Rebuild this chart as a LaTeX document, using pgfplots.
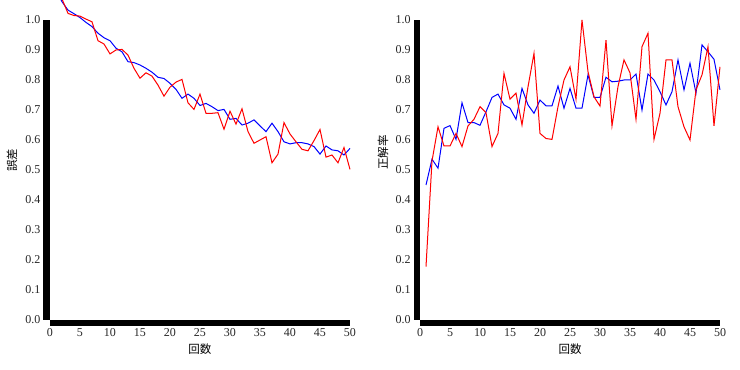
\documentclass[border=0pt]{standalone}
\usepackage{pgfplots}
\pgfplotsset{compat=1.18}
\usepackage{pgfplotstable}
\usepackage{fontspec}
\setmainfont{Liberation Serif}
\newfontfamily\cjk{Noto Sans CJK JP}

\pgfplotstableread{
k v
1 1.10
2 1.061
3 1.033
4 1.021
5 1.008
6 0.992
7 0.978
8 0.956
9 0.941
10 0.931
11 0.906
12 0.894
13 0.861
14 0.858
15 0.850
16 0.839
17 0.826
18 0.809
19 0.805
20 0.789
21 0.769
22 0.739
23 0.753
24 0.739
25 0.715
26 0.722
27 0.711
28 0.698
29 0.702
30 0.669
31 0.672
32 0.650
33 0.656
34 0.667
35 0.647
36 0.628
37 0.656
38 0.628
39 0.594
40 0.587
41 0.591
42 0.591
43 0.587
44 0.578
45 0.553
46 0.580
47 0.567
48 0.564
49 0.550
50 0.572
}\lossblue

\pgfplotstableread{
k v
1 1.12
2 1.07
3 1.022
4 1.015
5 1.013
6 1.003
7 0.994
8 0.931
9 0.920
10 0.887
11 0.900
12 0.902
13 0.883
14 0.839
15 0.806
16 0.824
17 0.813
18 0.783
19 0.746
20 0.776
21 0.793
22 0.802
23 0.724
24 0.702
25 0.753
26 0.689
27 0.689
28 0.691
29 0.636
30 0.696
31 0.653
32 0.704
33 0.628
34 0.589
35 0.600
36 0.611
37 0.524
38 0.553
39 0.658
40 0.620
41 0.594
42 0.569
43 0.564
44 0.598
45 0.635
46 0.543
47 0.550
48 0.524
49 0.575
50 0.502
}\lossred

\pgfplotstableread{
k v
1 0.45
2 0.536
3 0.506
4 0.639
5 0.648
6 0.602
7 0.724
8 0.658
9 0.658
10 0.649
11 0.694
12 0.742
13 0.753
14 0.717
15 0.706
16 0.669
17 0.772
18 0.717
19 0.689
20 0.733
21 0.714
22 0.714
23 0.780
24 0.706
25 0.772
26 0.706
27 0.706
28 0.817
29 0.742
30 0.742
31 0.809
32 0.794
33 0.796
34 0.800
35 0.800
36 0.820
37 0.700
38 0.820
39 0.800
40 0.761
41 0.717
42 0.761
43 0.867
44 0.767
45 0.856
46 0.756
47 0.917
48 0.894
49 0.869
50 0.767
}\accblue

\pgfplotstableread{
k v
1 0.178
2 0.53
3 0.644
4 0.58
5 0.58
6 0.622
7 0.578
8 0.647
9 0.669
10 0.711
11 0.691
12 0.578
13 0.622
14 0.822
15 0.736
16 0.756
17 0.650
18 0.777
19 0.889
20 0.622
21 0.605
22 0.602
23 0.711
24 0.800
25 0.844
26 0.736
27 1.000
28 0.828
29 0.744
30 0.713
31 0.933
32 0.647
33 0.778
34 0.867
35 0.824
36 0.669
37 0.911
38 0.956
39 0.602
40 0.689
41 0.867
42 0.867
43 0.711
44 0.644
45 0.600
46 0.767
47 0.817
48 0.911
49 0.647
50 0.844
}\accred

\pgfplotsset{
  myaxis/.style={
    width=300pt, height=300pt, scale only axis,
    anchor=south west,
    xmin=0, xmax=50, ymin=0, ymax=1,
    clip=false,
    axis lines=none,
    xtick={0,5,10,15,20,25,30,35,40,45,50},
    ytick={0,0.1,0.2,0.3,0.4,0.5,0.6,0.7,0.8,0.9,1.0},
    major tick length=0pt,
    /pgf/number format/assume math mode=true,
    yticklabel={\pgfmathprintnumber[fixed,fixed zerofill,precision=1]{\tick}},
    xticklabel={\pgfmathprintnumber[fixed,precision=0]{\tick}},
    hide x axis=false, hide y axis=false,
    axis x line*=bottom, axis y line*=left,
    axis line style={draw=none},
    tick style={draw=none},
    ticklabel style={font=\fontsize{12}{14}\selectfont, text=black!85},
    yticklabel style={anchor=east, inner sep=0pt, xshift=-9.3pt},
    xticklabel style={anchor=north, inner sep=0pt, yshift=-8pt},
    label style={font=\fontsize{11.5}{13}\selectfont\cjk},
  }
}

\begin{document}
\begin{tikzpicture}
\useasboundingbox (0,0) rectangle (740pt,370pt);
\begin{axis}[myaxis, at={(50pt,50pt)},
  xlabel={回数}, ylabel={誤差},
  xlabel style={at={(axis description cs:0.5,-0.097)}, anchor=center, inner sep=0pt},
  ylabel style={at={(axis description cs:-0.127,0.533)}, anchor=center, inner sep=0pt, rotate=0},
]
\addplot[blue, line width=1pt] table[x=k,y=v] {\lossblue};
\addplot[red, line width=1pt] table[x=k,y=v] {\lossred};
\draw[black, line width=6.5pt] ([xshift=-3.25pt]rel axis cs:0,0) -- ([xshift=-3.25pt]rel axis cs:0,1);
\draw[black, line width=6pt] ([yshift=-3pt]rel axis cs:0,0) -- ([yshift=-3pt]rel axis cs:1,0);
\end{axis}
\begin{axis}[myaxis, at={(420pt,50pt)},
  xlabel={回数}, ylabel={正解率},
  xlabel style={at={(axis description cs:0.5,-0.097)}, anchor=center, inner sep=0pt},
  ylabel style={at={(axis description cs:-0.123,0.558)}, anchor=center, inner sep=0pt},
]
\addplot[blue, line width=1pt] table[x=k,y=v] {\accblue};
\addplot[red, line width=1pt] table[x=k,y=v] {\accred};
\draw[black, line width=6.5pt] ([xshift=-3.25pt]rel axis cs:0,0) -- ([xshift=-3.25pt]rel axis cs:0,1);
\draw[black, line width=6pt] ([yshift=-3pt]rel axis cs:0,0) -- ([yshift=-3pt]rel axis cs:1,0);
\end{axis}
\end{tikzpicture}
\end{document}
